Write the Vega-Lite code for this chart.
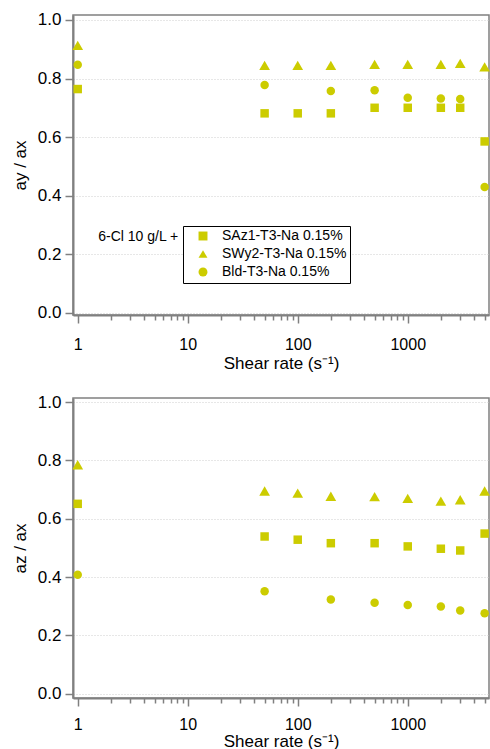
{
  "$schema": "https://vega.github.io/schema/vega-lite/v6.json",
  "padding": {"top": 10, "left": 10, "right": 1, "bottom": 0},
  "background": "white",
  "spacing": 20,
  "config": {
    "font": "Liberation Sans",
    "view": {"stroke": "#808080", "strokeWidth": 1.5},
    "axis": {
      "labelFont": "Liberation Sans",
      "titleFont": "Liberation Sans",
      "labelFontSize": 16,
      "titleFontSize": 17,
      "titleFontWeight": "normal",
      "labelColor": "black",
      "titleColor": "black",
      "domainColor": "#808080",
      "domainWidth": 2,
      "tickColor": "#808080",
      "tickWidth": 1.5,
      "gridColor": "#cfcfcf",
      "gridDash": [1, 2],
      "gridWidth": 1
    },
    "axisY": {"labelFontSize": 17},
    "axisX": {
      "values": [1,2,3,4,5,6,7,8,9,10,20,30,40,50,60,70,80,90,100,200,300,400,500,600,700,800,900,1000,2000,3000,4000,5000],
      "labelExpr": "indexof([1,10,100,1000], datum.value) >= 0 ? format(datum.value, 'd') : ''",
      "tickSize": {"condition": {"test": "indexof([1,10,100,1000], datum.value) >= 0", "value": 8}, "value": 5},
      "gridOpacity": {"condition": {"test": "indexof([1,10,100,1000], datum.value) >= 0", "value": 1}, "value": 0},
      "labelFlush": false
    }
  },
  "datasets": {
    "ay": [
      {"sample": "SAz1-T3-Na 0.15%", "rate": 1, "ratio": 0.764},
      {"sample": "SAz1-T3-Na 0.15%", "rate": 50, "ratio": 0.681},
      {"sample": "SAz1-T3-Na 0.15%", "rate": 100, "ratio": 0.681},
      {"sample": "SAz1-T3-Na 0.15%", "rate": 200, "ratio": 0.681},
      {"sample": "SAz1-T3-Na 0.15%", "rate": 500, "ratio": 0.700},
      {"sample": "SAz1-T3-Na 0.15%", "rate": 1000, "ratio": 0.700},
      {"sample": "SAz1-T3-Na 0.15%", "rate": 2000, "ratio": 0.700},
      {"sample": "SAz1-T3-Na 0.15%", "rate": 3000, "ratio": 0.700},
      {"sample": "SAz1-T3-Na 0.15%", "rate": 5000, "ratio": 0.585},
      {"sample": "SWy2-T3-Na 0.15%", "rate": 1, "ratio": 0.913},
      {"sample": "SWy2-T3-Na 0.15%", "rate": 50, "ratio": 0.845},
      {"sample": "SWy2-T3-Na 0.15%", "rate": 100, "ratio": 0.845},
      {"sample": "SWy2-T3-Na 0.15%", "rate": 200, "ratio": 0.845},
      {"sample": "SWy2-T3-Na 0.15%", "rate": 500, "ratio": 0.848},
      {"sample": "SWy2-T3-Na 0.15%", "rate": 1000, "ratio": 0.848},
      {"sample": "SWy2-T3-Na 0.15%", "rate": 2000, "ratio": 0.848},
      {"sample": "SWy2-T3-Na 0.15%", "rate": 3000, "ratio": 0.852},
      {"sample": "SWy2-T3-Na 0.15%", "rate": 5000, "ratio": 0.840},
      {"sample": "Bld-T3-Na 0.15%", "rate": 1, "ratio": 0.847},
      {"sample": "Bld-T3-Na 0.15%", "rate": 50, "ratio": 0.778},
      {"sample": "Bld-T3-Na 0.15%", "rate": 200, "ratio": 0.757},
      {"sample": "Bld-T3-Na 0.15%", "rate": 500, "ratio": 0.760},
      {"sample": "Bld-T3-Na 0.15%", "rate": 1000, "ratio": 0.734},
      {"sample": "Bld-T3-Na 0.15%", "rate": 2000, "ratio": 0.732},
      {"sample": "Bld-T3-Na 0.15%", "rate": 3000, "ratio": 0.730},
      {"sample": "Bld-T3-Na 0.15%", "rate": 5000, "ratio": 0.429}
    ],
    "az": [
      {"sample": "SAz1-T3-Na 0.15%", "rate": 1, "ratio": 0.651},
      {"sample": "SAz1-T3-Na 0.15%", "rate": 50, "ratio": 0.539},
      {"sample": "SAz1-T3-Na 0.15%", "rate": 100, "ratio": 0.528},
      {"sample": "SAz1-T3-Na 0.15%", "rate": 200, "ratio": 0.516},
      {"sample": "SAz1-T3-Na 0.15%", "rate": 500, "ratio": 0.516},
      {"sample": "SAz1-T3-Na 0.15%", "rate": 1000, "ratio": 0.505},
      {"sample": "SAz1-T3-Na 0.15%", "rate": 2000, "ratio": 0.497},
      {"sample": "SAz1-T3-Na 0.15%", "rate": 3000, "ratio": 0.491},
      {"sample": "SAz1-T3-Na 0.15%", "rate": 5000, "ratio": 0.549},
      {"sample": "SWy2-T3-Na 0.15%", "rate": 1, "ratio": 0.785},
      {"sample": "SWy2-T3-Na 0.15%", "rate": 50, "ratio": 0.695},
      {"sample": "SWy2-T3-Na 0.15%", "rate": 100, "ratio": 0.688},
      {"sample": "SWy2-T3-Na 0.15%", "rate": 200, "ratio": 0.677},
      {"sample": "SWy2-T3-Na 0.15%", "rate": 500, "ratio": 0.676},
      {"sample": "SWy2-T3-Na 0.15%", "rate": 1000, "ratio": 0.670},
      {"sample": "SWy2-T3-Na 0.15%", "rate": 2000, "ratio": 0.660},
      {"sample": "SWy2-T3-Na 0.15%", "rate": 3000, "ratio": 0.665},
      {"sample": "SWy2-T3-Na 0.15%", "rate": 5000, "ratio": 0.695},
      {"sample": "Bld-T3-Na 0.15%", "rate": 1, "ratio": 0.408},
      {"sample": "Bld-T3-Na 0.15%", "rate": 50, "ratio": 0.351},
      {"sample": "Bld-T3-Na 0.15%", "rate": 200, "ratio": 0.323},
      {"sample": "Bld-T3-Na 0.15%", "rate": 500, "ratio": 0.312},
      {"sample": "Bld-T3-Na 0.15%", "rate": 1000, "ratio": 0.304},
      {"sample": "Bld-T3-Na 0.15%", "rate": 2000, "ratio": 0.299},
      {"sample": "Bld-T3-Na 0.15%", "rate": 3000, "ratio": 0.285},
      {"sample": "Bld-T3-Na 0.15%", "rate": 5000, "ratio": 0.276}
    ],
    "note": [{"label": "6-Cl 10 g/L +"}]
  },
  "resolve": {"scale": {"x": "independent", "y": "independent", "shape": "independent"}, "legend": {"shape": "independent"}},
  "vconcat": [
    {
      "width": 416,
      "height": 300,
      "layer": [
        {
          "data": {"name": "ay"},
          "encoding": {
            "x": {
              "field": "rate", "type": "quantitative",
              "scale": {"type": "log", "domain": [0.906, 5480], "nice": false},
              "axis": {"title": "Shear rate (s⁻¹)", "labelPadding": 13, "titlePadding": 3}
            },
            "y": {
              "field": "ratio", "type": "quantitative",
              "scale": {"domain": [-0.008, 1.017], "nice": false, "zero": false},
              "axis": {"title": "ay / ax", "values": [0, 0.2, 0.4, 0.6, 0.8, 1.0], "format": ".1f", "tickSize": 8, "labelPadding": 4, "titlePadding": 8}
            },
            "shape": {
              "field": "sample", "type": "nominal",
              "scale": {"domain": ["SAz1-T3-Na 0.15%", "SWy2-T3-Na 0.15%", "Bld-T3-Na 0.15%"], "range": ["square", "triangle-up", "circle"]},
              "legend": {
                "title": null,
                "orient": "none",
                "legendX": 110,
                "legendY": 211,
                "strokeColor": "black",
                "fillColor": "white",
                "padding": 3,
                "rowPadding": 3,
                "symbolOffset": 10,
                "labelOffset": 12,
                "symbolSize": 80,
                "symbolFillColor": "#cccc00",
                "symbolStrokeColor": "#cccc00",
                "symbolOpacity": 1,
                "labelFont": "Liberation Sans",
                "labelFontSize": 14,
                "labelColor": "black",
                "labelLimit": 300
              }
            }
          },
          "layer": [
            {
              "transform": [{"filter": "datum.sample === 'SAz1-T3-Na 0.15%'"}],
              "mark": {"type": "point", "filled": true, "opacity": 1, "color": "#cccc00", "size": 72}
            },
            {
              "transform": [{"filter": "datum.sample === 'SWy2-T3-Na 0.15%'"}],
              "mark": {"type": "point", "filled": true, "opacity": 1, "color": "#cccc00", "size": 115}
            },
            {
              "transform": [{"filter": "datum.sample === 'Bld-T3-Na 0.15%'"}],
              "mark": {"type": "point", "filled": true, "opacity": 1, "color": "#cccc00", "size": 72}
            }
          ]
        },
        {
          "data": {"name": "note"},
          "mark": {"type": "text", "align": "right", "baseline": "middle", "fontSize": 14, "font": "Liberation Sans", "color": "black"},
          "encoding": {
            "x": {"datum": 8.2, "type": "quantitative"},
            "y": {"datum": 0.258, "type": "quantitative"},
            "text": {"field": "label"}
          }
        }
      ]
    },
    {
      "width": 416,
      "height": 300,
      "data": {"name": "az"},
      "encoding": {
        "x": {
          "field": "rate", "type": "quantitative",
          "scale": {"type": "log", "domain": [0.906, 5480], "nice": false},
          "axis": {"title": "Shear rate (s⁻¹)", "labelPadding": 10, "titlePadding": 1}
        },
        "y": {
          "field": "ratio", "type": "quantitative",
          "scale": {"domain": [-0.015, 1.014], "nice": false, "zero": false},
          "axis": {"title": "az / ax", "values": [0, 0.2, 0.4, 0.6, 0.8, 1.0], "format": ".1f", "tickSize": 8, "labelPadding": 4, "titlePadding": 8}
        },
        "shape": {
          "field": "sample", "type": "nominal",
          "scale": {"domain": ["SAz1-T3-Na 0.15%", "SWy2-T3-Na 0.15%", "Bld-T3-Na 0.15%"], "range": ["square", "triangle-up", "circle"]},
          "legend": null
        }
      },
      "layer": [
        {
          "transform": [{"filter": "datum.sample === 'SAz1-T3-Na 0.15%'"}],
          "mark": {"type": "point", "filled": true, "opacity": 1, "color": "#cccc00", "size": 72}
        },
        {
          "transform": [{"filter": "datum.sample === 'SWy2-T3-Na 0.15%'"}],
          "mark": {"type": "point", "filled": true, "opacity": 1, "color": "#cccc00", "size": 115}
        },
        {
          "transform": [{"filter": "datum.sample === 'Bld-T3-Na 0.15%'"}],
          "mark": {"type": "point", "filled": true, "opacity": 1, "color": "#cccc00", "size": 72}
        }
      ]
    }
  ]
}
